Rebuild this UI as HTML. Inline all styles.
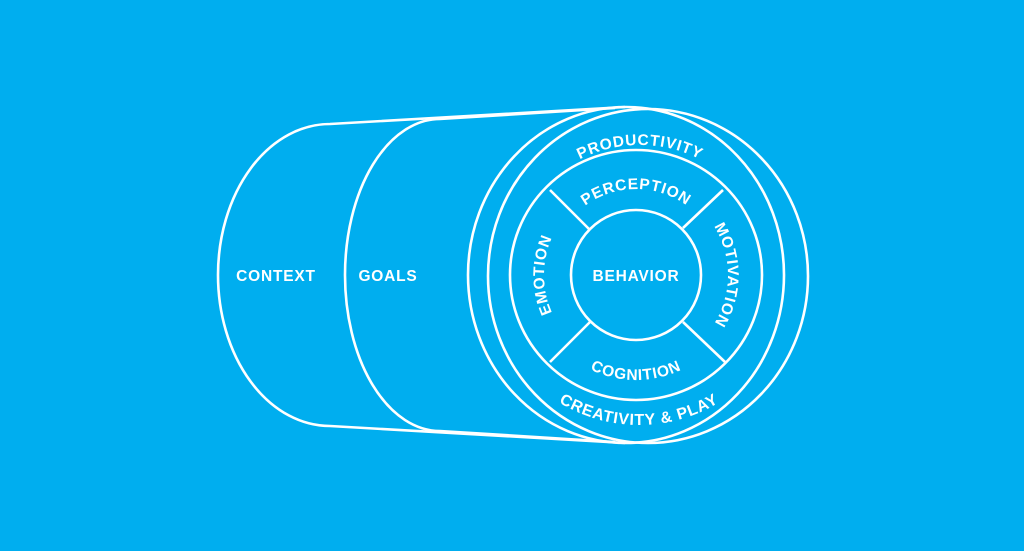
<!DOCTYPE html>
<html><head><meta charset="utf-8"><style>
html,body{margin:0;padding:0;background:#00aeef;}
svg{display:block}
text{font-family:"Liberation Sans",sans-serif;font-weight:bold;fill:#fff;font-size:15.5px;letter-spacing:0.8px}
</style></head><body>
<svg width="1024" height="551" viewBox="0 0 1024 551">
<rect width="1024" height="551" fill="#00aeef"/>
<g fill="none" stroke="#fff" stroke-width="2.6">
<path d="M625,107 L330,124 A112 151 0 0 0 330,426 L625,443"/>
<path d="M615,108 L440,119 A95 156 0 0 0 440,431 L615,442"/>
<ellipse cx="626" cy="275" rx="158" ry="168"/>
<ellipse cx="648" cy="276" rx="160" ry="167"/>
<ellipse cx="636" cy="275" rx="126" ry="125"/>
<circle cx="636" cy="275" r="65"/>
<line x1="550" y1="190" x2="590" y2="230"/>
<line x1="723" y1="190" x2="683" y2="228"/>
<line x1="550" y1="362" x2="590" y2="322"/>
<line x1="725" y1="362" x2="683" y2="322"/>
</g>
<defs>
<path id="pProd" d="M506,279 A134 134 0 0 1 774,279"/>
<path id="pPerc" d="M550,275 A86 86 0 0 1 722,275"/>
<path id="pCog" d="M531,275 A105 105 0 0 0 741,275"/>
<path id="pCrea" d="M486,272 A153 153 0 0 0 792,272"/>
<path id="pEmo" d="M636,367 A92 92 0 0 1 636,183"/>
<path id="pMot" d="M636,183 A92 92 0 0 1 636,367"/>
</defs>
<text x="276" y="281" text-anchor="middle">CONTEXT</text>
<text x="388" y="281" text-anchor="middle">GOALS</text>
<text x="636" y="281" text-anchor="middle">BEHAVIOR</text>
<text><textPath href="#pProd" startOffset="50%" text-anchor="middle">PRODUCTIVITY</textPath></text>
<text><textPath href="#pPerc" startOffset="50%" text-anchor="middle">PERCEPTION</textPath></text>
<text><textPath href="#pCog" startOffset="50%" text-anchor="middle">COGNITION</textPath></text>
<text style="font-size:16px"><textPath href="#pCrea" startOffset="50%" text-anchor="middle">CREATIVITY &amp; PLAY</textPath></text>
<text><textPath href="#pEmo" startOffset="50%" text-anchor="middle">EMOTION</textPath></text>
<text><textPath href="#pMot" startOffset="50%" text-anchor="middle">MOTIVATION</textPath></text>
</svg>
</body></html>
